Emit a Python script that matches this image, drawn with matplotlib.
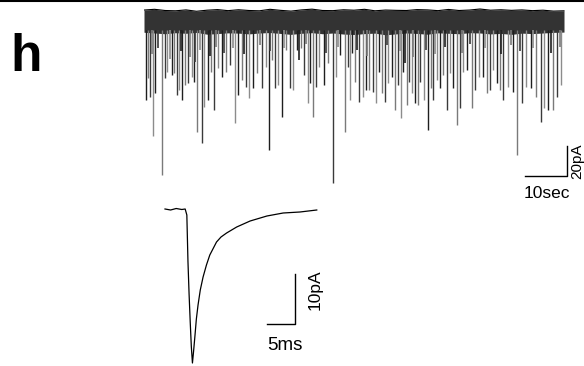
import numpy as np
import matplotlib.pyplot as plt
from matplotlib.lines import Line2D

plt.rcParams['font.family'] = ['Liberation Sans', 'DejaVu Sans']

# ---- long recording: baseline noise band (s, pA) ----
band_t = np.arange(0, 100.1, 2.5)
band_top = [7.3, 7.8, 7.0, 6.8, 7.4, 6.5, 7.2, 7.6, 6.9, 7.5, 7.0, 6.8, 7.8, 7.1, 6.6,
            7.4, 7.9, 7.0, 6.9, 7.5, 7.2, 7.8, 6.8, 7.3, 7.1, 7.0, 7.6, 7.4, 6.9, 7.7,
            7.0, 7.3, 8.0, 7.2, 7.5, 7.1, 7.4, 6.9, 7.2, 6.6, 6.8]
band_bot = [-7.5, -8.0, -8.5, -7.8, -8.2, -7.6, -8.8, -8.4, -7.9, -8.1, -8.6, -8.0, -7.7, -8.3, -8.9,
            -8.2, -7.8, -8.5, -8.0, -8.7, -9.0, -8.4, -8.1, -9.2, -8.6, -8.0, -8.3, -8.8, -7.9, -8.2,
            -8.5, -7.8, -8.0, -8.6, -8.3, -8.9, -8.1, -8.4, -8.0, -7.6, -7.4]

# ---- spontaneous events: time (s) and peak amplitude (pA, downward) ----
ev_t = [0.5, 1.0, 1.4, 2.1, 2.6, 4.3, 5.0, 5.5, 6.7, 7.1, 7.9, 8.3, 9.0, 9.8, 10.5, 11.4,
        11.9, 12.6, 13.8, 14.3, 15.2, 16.0, 16.7, 17.6, 18.6, 19.5, 20.5, 21.7, 22.4, 23.3,
        24.3, 25.0, 26.0, 26.9, 28.1, 29.0, 29.8, 30.5, 31.2, 31.9, 32.9, 33.8, 34.8, 35.5,
        36.4, 37.4, 38.1, 39.0, 39.5, 40.2, 41.0, 41.7, 42.9, 43.8, 45.0, 45.7, 46.7, 47.9,
        48.6, 49.0, 49.5, 50.2, 51.2, 52.1, 52.9, 53.6, 54.5, 55.2, 56.0, 56.7, 57.4, 58.1,
        59.0, 59.8, 60.5, 61.2, 61.7, 62.6, 63.1, 63.8, 64.5, 65.2, 65.7, 66.7, 67.6, 68.3,
        68.8, 69.8, 70.5, 71.2, 72.1, 72.9, 73.6, 74.5, 75.2, 76.0, 76.9, 78.1, 78.8, 79.8,
        80.7, 81.7, 82.4, 83.1, 84.0, 84.8, 85.5, 86.7, 87.9, 88.8, 90.0, 91.0, 92.1, 93.3,
        94.5, 95.2, 96.2, 97.4, 98.3, 99.3]
ev_amp = [52.7, 38.0, 50.7, 76.7, 48.0, 102.7, 38.0, 34.0, 36.0, 34.7, 49.3, 46.0, 52.7, 42.7,
          41.3, 37.3, 40.7, 74.0, 81.3, 57.3, 52.7, 34.0, 59.3, 31.3, 37.3, 34.0, 29.3, 68.0,
          49.3, 39.3, 44.0, 51.3, 44.7, 34.7, 44.7, 30.7, 86.0, 26.0, 44.7, 42.7, 64.0, 19.3,
          44.7, 46.0, 19.3, 18.0, 36.0, 54.7, 41.3, 64.0, 44.0, 30.7, 42.7, 28.0, 108.0, 37.3,
          22.7, 74.0, 30.7, 52.7, 21.3, 40.7, 54.0, 50.7, 46.0, 46.0, 47.3, 54.7, 34.0, 48.0,
          54.0, 41.3, 37.3, 59.3, 42.7, 64.7, 34.0, 56.0, 40.7, 48.0, 54.7, 56.0, 40.7, 52.7,
          72.7, 44.7, 52.7, 39.3, 44.7, 36.0, 59.3, 34.7, 44.7, 69.3, 58.0, 34.0, 32.7, 58.0,
          46.0, 37.3, 37.3, 48.0, 46.0, 32.7, 41.3, 46.0, 52.7, 44.0, 47.3, 89.3, 54.7, 44.0,
          44.7, 50.7, 67.3, 58.0, 59.3, 59.3, 50.7, 42.7]

# small events forming the dark fringe under the baseline
small_t = [1.8, 3.4, 6.2, 8.8, 10.9, 12.2, 13.3, 15.7, 17.1, 19.0, 21.2, 23.8, 27.5, 30.1,
           33.3, 36.9, 38.6, 43.3, 46.2, 50.7, 53.2, 57.8, 60.9, 62.1, 64.0, 67.1, 69.3,
           71.7, 75.8, 77.5, 81.2, 85.1, 87.3, 89.5, 92.7, 96.8, 99.0]
small_amp = [22, 18, 25, 20, 24, 27, 19, 23, 17, 21, 18, 22, 16, 20, 18, 26, 15, 21, 17,
             19, 23, 16, 20, 28, 24, 19, 22, 17, 21, 15, 18, 22, 16, 20, 18, 21, 17]

# ---- averaged mEPSC (ms, pA) ----
avg_t = [0.0, 1.0, 2.0, 3.0, 3.6, 3.9, 4.1, 4.3, 4.5, 4.7, 4.9, 5.1, 5.36, 5.6, 5.9, 6.3,
         6.8, 7.4, 8.0, 9.2, 10.0, 11.0, 12.8, 15.2, 18.2, 21.1, 24.1, 27.1]
avg_i = [0.0, -0.2, 0.1, -0.1, 0.0, -1.2, -10.5, -17.0, -22.5, -27.5, -30.8, -28.5, -25.2,
         -22.0, -19.2, -16.2, -13.6, -11.2, -9.2, -6.6, -5.6, -4.8, -3.6, -2.4, -1.4, -0.8,
         -0.6, -0.2]

W, H = 584, 366
fig = plt.figure(figsize=(W / 100, H / 100), dpi=100)

# top rule
fig.add_artist(Line2D([0, 1], [0.998, 0.998], color='black', lw=1.5, transform=fig.transFigure))

fig.text(10 / W, 1 - 71 / H, 'h', fontsize=37, fontweight='bold', va='baseline', ha='left')

# long trace axes: 4.2 px per s, 1.5 px per pA
ax1 = fig.add_axes([144 / W, 1 - 200 / H, (W - 144) / W, 200 / H])
ax1.set_xlim(0, (W - 144) / 4.2)
ax1.set_ylim(-(200 - 21) / 1.5, 21 / 1.5)
ax1.axis('off')
cols = ['#1e1e1e', '#7a7a7a', '#3a3a3a', '#8c8c8c']
for i, (t, a) in enumerate(zip(ev_t, ev_amp)):
    ax1.vlines(t, -6, -a, color=cols[i % 4], lw=1.0)
for i, (t, a) in enumerate(zip(small_t, small_amp)):
    ax1.vlines(t, -6, -a, color=cols[(i + 1) % 4], lw=1.2)
ax1.fill_between(band_t, band_bot, band_top, color='#333333', lw=0)
ax1.plot(band_t, band_top, color='black', lw=0.8)
# scale bar 10 s / 20 pA
ax1.plot([90.7, 100.7, 100.7], [-103.3, -103.3, -83.3], color='black', lw=1.0, clip_on=False)
ax1.text(96.0, -115, '10sec', fontsize=12.5, ha='center', va='center')
ax1.text(101.6, -93.5, '20pA', fontsize=11, rotation=90, ha='left', va='center', clip_on=False)

# averaged event axes: 5.6 px per ms, 5 px per pA
ax2 = fig.add_axes([150 / W, 0, 190 / W, (H - 195) / H])
ax2.set_xlim(-15 / 5.6, 175 / 5.6)
ax2.set_ylim(-(H - 209) / 5, 14 / 5)
ax2.axis('off')
ax2.plot(avg_t, avg_i, color='black', lw=0.9, clip_on=False)
ax2.plot([18.2, 23.2, 23.2], [-23, -23, -13], color='black', lw=1.0)
ax2.text(25.4, -16.2, '10pA', fontsize=12.5, rotation=90, ha='left', va='center')
ax2.text(21.4, -27.3, '5ms', fontsize=13.5, ha='center', va='center')

fig.savefig('out.png', dpi=100)
